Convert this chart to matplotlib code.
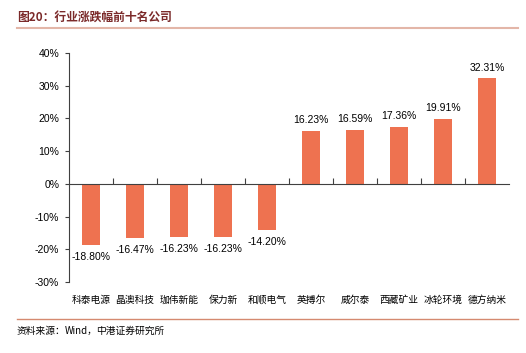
import matplotlib.pyplot as plt
from matplotlib.lines import Line2D
import matplotlib.transforms as mtransforms

companies = ["科泰电源", "晶澳科技", "珈伟新能", "保力新", "和顺电气",
             "英搏尔", "威尔泰", "西藏矿业", "冰轮环境", "德方纳米"]
changes = [-18.80, -16.47, -16.23, -16.23, -14.20,
           16.23, 16.59, 17.36, 19.91, 32.31]

cjk = ["Noto Sans CJK SC", "DejaVu Sans"]
num_font = "Liberation Sans"

fig = plt.figure(figsize=(5.26, 3.53), dpi=100)
ax = fig.add_axes([0.131, 0.201, 0.837, 0.649])

x = list(range(len(companies)))
ax.bar(x, changes, width=0.42, color="#EE7250")
ax.set_xlim(-0.5, len(companies) - 0.5)
ax.set_ylim(-30, 40)
ax.set_yticks(range(-30, 41, 10))
ax.set_yticklabels([f"{v}%" for v in range(-30, 41, 10)],
                   fontsize=7.5, family=num_font)

for side in ["top", "right"]:
    ax.spines[side].set_visible(False)
ax.spines["left"].set_color("#404040")
ax.spines["bottom"].set_color("#404040")
ax.spines["left"].set_linewidth(0.8)
ax.spines["bottom"].set_linewidth(0.8)
ax.spines["bottom"].set_position(("data", 0))
ax.set_xticks([i + 0.5 for i in x[:-1]])
ax.set_xticklabels([])
ax.tick_params(axis="x", direction="in", length=4, color="#404040", width=0.8)
ax.tick_params(axis="y", direction="out", length=3, color="#404040", width=0.8,
               pad=4)

for xi, v in zip(x, changes):
    if v >= 0:
        ax.annotate(f"{v:.2f}%", (xi, v), xytext=(0, 4), textcoords="offset points",
                    ha="center", va="bottom", fontsize=7.5, family=num_font)
    else:
        ax.annotate(f"{v:.2f}%", (xi, v), xytext=(0, -5), textcoords="offset points",
                    ha="center", va="top", fontsize=7.5, family=num_font)

trans = mtransforms.blended_transform_factory(ax.transData, ax.transAxes)
for xi, name in zip(x, companies):
    ax.text(xi, -0.078, name, transform=trans, ha="center", va="center",
            fontsize=7, family=cjk)

# header and footer
fig.text(0.032, 0.952, "图20：行业涨跌幅前十名公司", fontsize=8.5, color="#7B2A2A",
         weight="bold", family=cjk, va="center")
fig.add_artist(Line2D([0.032, 0.985], [0.921, 0.921], color="#E3B6A8", linewidth=1.5))
fig.add_artist(Line2D([0.032, 0.985], [0.096, 0.096], color="#D58A70", linewidth=1.0))
fig.text(0.032, 0.062, "资料来源：", fontsize=7, style="italic", family=cjk, va="center")
fig.text(0.123, 0.062, "Wind，", fontsize=7, family=cjk, va="center")
fig.text(0.183, 0.062, "中港证券研究所", fontsize=7, style="italic", family=cjk, va="center")

fig.savefig("out.png", dpi=100)
